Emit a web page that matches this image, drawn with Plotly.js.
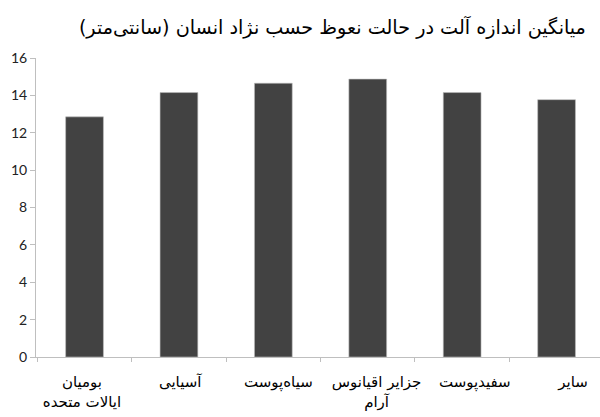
<!DOCTYPE html>
<html>
<head>
<meta charset="utf-8">
<script src="https://cdn.plot.ly/plotly-3.0.1.min.js"></script>
<style>html,body{margin:0;padding:0;background:#fff;}#chart{width:600px;height:417px;}</style>
</head>
<body>
<div id="chart"></div>
<script>
const chartTitle = "میانگین اندازه آلت در حالت نعوظ حسب نژاد انسان (سانتی‌متر)";
const categories = ["بومیان<br>ایالات متحده", "آسیایی", "سیاه‌پوست", "جزایر اقیانوس<br>آرام", "سفیدپوست", "سایر"];
const values = [12.85, 14.15, 14.65, 14.87, 14.15, 13.77];
const yTicks = [0, 2, 4, 6, 8, 10, 12, 14, 16];

const bars = {
  type: "bar",
  x: categories,
  y: values,
  marker: {color: "#424242", line: {color: "#bdbdbd", width: 0.6}},
  width: 0.4,
  hoverinfo: "x+y"
};
// invisible companion trace carrying the category labels (label axis)
const labelTrace = {
  type: "scatter", mode: "markers",
  x: categories, y: values,
  xaxis: "x2", yaxis: "y",
  marker: {opacity: 0}, hoverinfo: "skip", showlegend: false
};

const layout = {
  width: 600, height: 417,
  margin: {l: 36, r: 0, t: 58, b: 60},
  paper_bgcolor: "#fff", plot_bgcolor: "#fff",
  showlegend: false,
  title: {
    text: chartTitle,
    font: {family: "DejaVu Sans", size: 19.2, color: "#000"},
    x: 0.554, xanchor: "center", xref: "container",
    y: 0.935, yanchor: "middle", yref: "container"
  },
  xaxis: {
    type: "category",
    range: [-0.514, 5.46],
    showline: true, linecolor: "#bfbfbf", linewidth: 1,
    ticks: "outside", tickson: "boundaries", ticklen: 4, tickcolor: "#bfbfbf",
    showgrid: false, zeroline: false,
    showticklabels: false
  },
  xaxis2: {
    type: "category",
    overlaying: "x", side: "bottom", anchor: "y",
    range: [-0.468, 5.275],
    showline: false, ticks: "", showgrid: false, zeroline: false,
    tickfont: {family: "DejaVu Sans", size: 15, color: "#000"},
    ticklabelstandoff: 14
  },
  yaxis: {
    range: [0, 16],
    tickvals: yTicks,
    ticktext: yTicks.map(String),
    showline: true, linecolor: "#bfbfbf", linewidth: 1,
    ticks: "outside", ticklen: 5, tickcolor: "#bfbfbf",
    showgrid: false, zeroline: false,
    tickfont: {family: "Lato", size: 14, color: "#222"}
  }
};

Plotly.newPlot("chart", [bars, labelTrace], layout, {displayModeBar: false, staticPlot: true});
</script>
</body>
</html>
